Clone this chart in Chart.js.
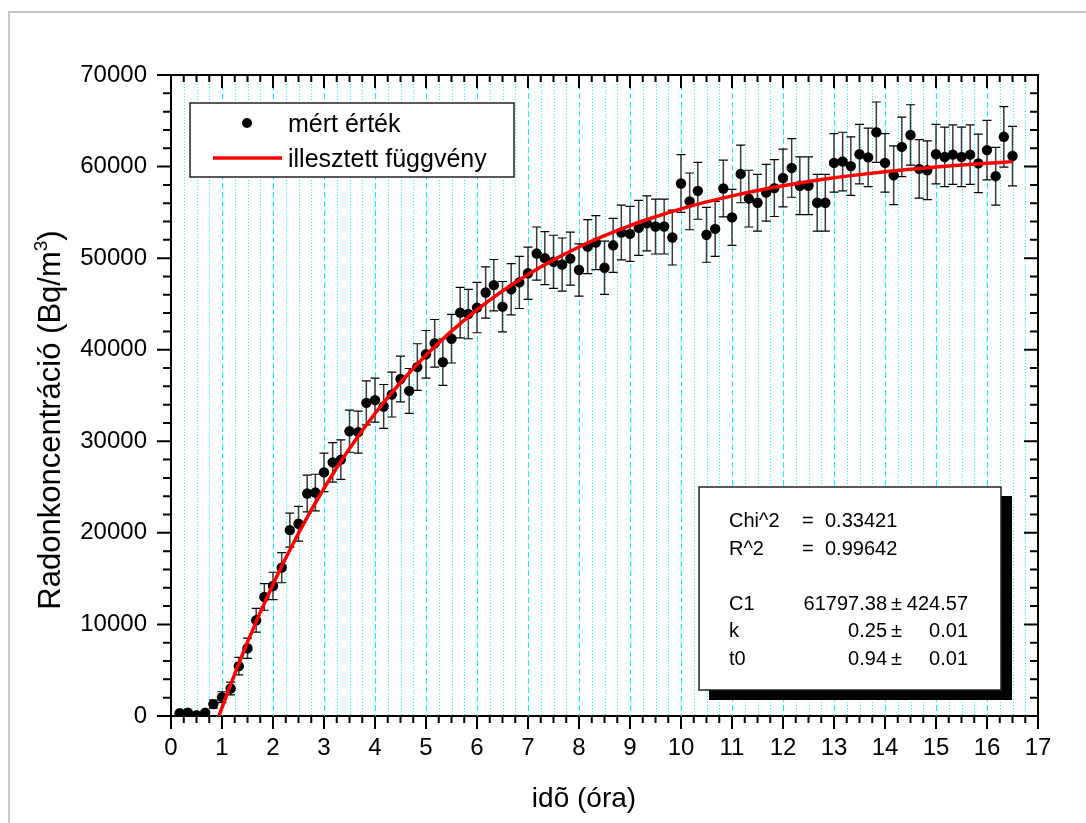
<!DOCTYPE html>
<html>
<head>
<meta charset="utf-8">
<title>Radonkoncentráció</title>
<script src="https://cdn.jsdelivr.net/npm/chart.js@4.4.1/dist/chart.umd.min.js"></script>
<style>
  html, body { margin: 0; padding: 0; background: #fff; }
  #wrap { width: 1086px; height: 823px; }
</style>
</head>
<body>
<div id="wrap"><canvas id="radonChart" width="1086" height="823"></canvas></div>
<script>
// measured points (hours, Bq/m3) and their error bars
const times = [
    0.17, 0.33, 0.5, 0.67, 0.83, 1, 1.17, 1.33, 1.5, 1.67,
    1.83, 2, 2.17, 2.33, 2.5, 2.67, 2.83, 3, 3.17, 3.33,
    3.5, 3.67, 3.83, 4, 4.17, 4.33, 4.5, 4.67, 4.83, 5,
    5.17, 5.33, 5.5, 5.67, 5.83, 6, 6.17, 6.33, 6.5, 6.67,
    6.83, 7, 7.17, 7.33, 7.5, 7.67, 7.83, 8, 8.17, 8.33,
    8.5, 8.67, 8.83, 9, 9.17, 9.33, 9.5, 9.67, 9.83, 10,
    10.17, 10.33, 10.5, 10.67, 10.83, 11, 11.17, 11.33, 11.5, 11.67,
    11.83, 12, 12.17, 12.33, 12.5, 12.67, 12.83, 13, 13.17, 13.33,
    13.5, 13.67, 13.83, 14, 14.17, 14.33, 14.5, 14.67, 14.83, 15,
    15.17, 15.33, 15.5, 15.67, 15.83, 16, 16.17, 16.33, 16.5
];
const measured = [
    300, 350, 100, 350, 1300, 2050, 3000, 5450, 7400, 10450,
    13000, 14200, 16200, 20300, 21000, 24300, 24400, 26600, 27700, 28000,
    31100, 31000, 34200, 34500, 33800, 35100, 36800, 35500, 38100, 39500,
    40700, 38650, 41200, 44050, 43900, 44600, 46250, 47050, 44700, 46600,
    47350, 48350, 50500, 50000, 49600, 49300, 49950, 48700, 51250, 51700,
    48950, 51400, 52800, 52650, 53300, 53800, 53450, 53450, 52250, 58150,
    56200, 57350, 52550, 53200, 57600, 54450, 59200, 56500, 56050, 57150,
    57650, 58750, 59850, 57900, 57900, 56050, 56050, 60400, 60550, 60050,
    61350, 61000, 63750, 60400, 59050, 62150, 63450, 59750, 59600, 61350,
    61050, 61300, 61050, 61300, 60350, 61800, 58950, 63250, 61150
];
const errors = [
    150, 150, 100, 150, 450, 600, 700, 950, 1100, 1300,
    1450, 1500, 1650, 1850, 1900, 2000, 2000, 2100, 2150, 2150,
    2300, 2300, 2400, 2400, 2400, 2450, 2500, 2450, 2550, 2600,
    2600, 2550, 2650, 2750, 2700, 2750, 2800, 2800, 2750, 2800,
    2850, 2850, 2900, 2900, 2900, 2900, 2900, 2850, 2950, 2950,
    2900, 2950, 3000, 3000, 3000, 3000, 3000, 3000, 3000, 3150,
    3100, 3100, 3000, 3000, 3100, 3050, 3150, 3100, 3100, 3100,
    3100, 3150, 3200, 3150, 3150, 3100, 3100, 3200, 3200, 3200,
    3250, 3200, 3300, 3200, 3200, 3250, 3300, 3200, 3200, 3250,
    3250, 3250, 3250, 3250, 3200, 3250, 3150, 3300, 3250
];

// fitted curve
const fitTimes = [
    0.94, 1, 1.5, 2, 2.5, 3, 3.5, 4, 4.5, 5, 5.5, 6, 6.5, 7, 7.5, 8, 8.5,
    9, 9.5, 10, 10.5, 11, 11.5, 12, 12.5, 13, 13.5, 14, 14.5, 15, 15.5, 16, 16.5
];
const fitValues = [
    0, 920, 8070, 14390, 19960, 24870, 29210, 33040, 36420, 39400, 42030, 44360, 46410, 48210, 49810, 51220, 52460,
    53560, 54520, 55380, 56140, 56800, 57390, 57900, 58360, 58770, 59120, 59440, 59710, 59960, 60180, 60370, 60540
];

const xTickLabels = ['0', '1', '2', '3', '4', '5', '6', '7', '8', '9', '10', '11', '12', '13', '14', '15', '16', '17'];
const yTickLabels = ['0', '10000', '20000', '30000', '40000', '50000', '60000', '70000'];
const legendLabels = ['mért érték', 'illesztett függvény'];

const statsLabels = ['Chi^2', 'R^2', 'C1', 'k', 't0'];
const statsValues = ['0.33421', '0.99642', '61797.38', '0.25', '0.94'];
const statsErrors = [null, null, '424.57', '0.01', '0.01'];

const FONT = '"Liberation Sans", Arial, sans-serif';

const decorPlugin = {
    id: 'decor',
    beforeDraw(chart) {
        const ctx = chart.ctx;
        ctx.save();
        ctx.fillStyle = '#fff';
        ctx.fillRect(0, 0, chart.width, chart.height);
        // light grey page frame (only top and left are in view)
        ctx.strokeStyle = '#c8c8c8';
        ctx.lineWidth = 2;
        ctx.strokeRect(9, 12, chart.width + 20, chart.height + 20);
        ctx.restore();
    },
    beforeDatasetsDraw(chart) {
        const ctx = chart.ctx;
        const area = chart.chartArea;
        const xs = chart.scales.x, ys = chart.scales.y;
        ctx.save();

        // vertical cyan grid: dashed on whole hours, dotted on quarters
        xs.ticks.forEach(t => {
            if (t.value <= xs.min || t.value >= xs.max) return;
            const px = Math.round(xs.getPixelForValue(t.value)) + 0.5;
            ctx.beginPath();
            ctx.strokeStyle = '#00ffff';
            ctx.lineWidth = 1;
            ctx.setLineDash(Number.isInteger(t.value) ? [6, 3] : [1, 2]);
            ctx.moveTo(px, area.top);
            ctx.lineTo(px, area.bottom);
            ctx.stroke();
        });
        ctx.setLineDash([]);

        // error bars
        times.forEach((t, i) => {
            const px = xs.getPixelForValue(t);
            const top = ys.getPixelForValue(measured[i] + errors[i]);
            const bot = ys.getPixelForValue(measured[i] - errors[i]);
            ctx.strokeStyle = '#3a3a3a';
            ctx.lineWidth = 1.5;
            ctx.beginPath();
            ctx.moveTo(px, top);
            ctx.lineTo(px, bot);
            ctx.stroke();
            ctx.strokeStyle = '#000';
            ctx.lineWidth = 1.2;
            ctx.beginPath();
            ctx.moveTo(px - 4.5, top);
            ctx.lineTo(px + 4.5, top);
            ctx.moveTo(px - 4.5, bot);
            ctx.lineTo(px + 4.5, bot);
            ctx.stroke();
        });
        ctx.restore();
    },
    afterDatasetsDraw(chart) {
        const ctx = chart.ctx;
        const area = chart.chartArea;
        const xs = chart.scales.x, ys = chart.scales.y;
        ctx.save();

        // frame + tick marks (outward on bottom/left, inward on top/right)
        ctx.strokeStyle = '#000';
        ctx.lineWidth = 2;
        ctx.beginPath();
        ctx.moveTo(area.left, area.top);
        ctx.lineTo(area.right, area.top);
        ctx.lineTo(area.right, area.bottom);
        ctx.stroke();

        ctx.beginPath();
        xs.ticks.forEach(t => {
            const px = xs.getPixelForValue(t.value);
            const len = Number.isInteger(t.value) ? 13 : 7;
            ctx.moveTo(px, area.bottom);
            ctx.lineTo(px, area.bottom + len);
            ctx.moveTo(px, area.top);
            ctx.lineTo(px, area.top + len);
        });
        ys.ticks.forEach(t => {
            const py = ys.getPixelForValue(t.value);
            const len = t.value % 10000 === 0 ? 14 : 8;
            ctx.moveTo(area.left, py);
            ctx.lineTo(area.left - len, py);
            ctx.moveTo(area.right, py);
            ctx.lineTo(area.right - len, py);
        });
        ctx.stroke();

        // legend box
        const pts = chart.data.datasets[0], fit = chart.data.datasets[1];
        ctx.fillStyle = '#fff';
        ctx.fillRect(190, 103, 324, 74);
        ctx.lineWidth = 1.5;
        ctx.strokeStyle = '#222';
        ctx.strokeRect(190, 103, 324, 74);
        ctx.fillStyle = pts.backgroundColor;
        ctx.beginPath();
        ctx.arc(247, 123, 5, 0, Math.PI * 2);
        ctx.fill();
        ctx.strokeStyle = fit.borderColor;
        ctx.lineWidth = 3.5;
        ctx.beginPath();
        ctx.moveTo(213, 158);
        ctx.lineTo(282, 158);
        ctx.stroke();
        ctx.fillStyle = '#000';
        ctx.font = '25px ' + FONT;
        ctx.textAlign = 'left';
        ctx.textBaseline = 'alphabetic';
        ctx.fillText(legendLabels[0], 288, 132);
        ctx.fillText(legendLabels[1], 288, 167);

        // fit results box with drop shadow
        ctx.fillStyle = '#000';
        ctx.fillRect(709, 496, 303, 204);
        ctx.fillStyle = '#fff';
        ctx.fillRect(699, 487, 302, 203);
        ctx.lineWidth = 1.5;
        ctx.strokeStyle = '#222';
        ctx.strokeRect(699, 487, 302, 203);
        ctx.fillStyle = '#000';
        ctx.font = '20px ' + FONT;
        const rowY = [527, 555, 610, 637, 665];
        statsLabels.forEach((lab, i) => {
            ctx.textAlign = 'left';
            ctx.fillText(lab, 729, rowY[i]);
            if (statsErrors[i] === null) {
                ctx.fillText('=', 802, rowY[i]);
                ctx.fillText(statsValues[i], 825, rowY[i]);
            } else {
                ctx.textAlign = 'right';
                ctx.fillText(statsValues[i], 887, rowY[i]);
                ctx.textAlign = 'left';
                ctx.fillText('±', 891, rowY[i]);
                ctx.textAlign = 'right';
                ctx.fillText(statsErrors[i], 968, rowY[i]);
            }
        });

        // axis titles
        ctx.textAlign = 'center';
        ctx.font = '28px ' + FONT;
        ctx.fillText('idõ (óra)', 584, 807);

        ctx.translate(60, 420);
        ctx.rotate(-Math.PI / 2);
        ctx.textAlign = 'left';
        const mainTxt = 'Radonkoncentráció (Bq/m';
        ctx.font = '31px ' + FONT;
        const w1 = ctx.measureText(mainTxt).width;
        const w3 = ctx.measureText(')').width;
        ctx.font = '19px ' + FONT;
        const w2 = ctx.measureText('3').width;
        let x0 = -(w1 + w2 + w3) / 2;
        ctx.font = '31px ' + FONT;
        ctx.fillText(mainTxt, x0, 0);
        ctx.font = '19px ' + FONT;
        ctx.fillText('3', x0 + w1, -13);
        ctx.font = '31px ' + FONT;
        ctx.fillText(')', x0 + w1 + w2, 0);

        ctx.restore();
    }
};

new Chart(document.getElementById('radonChart').getContext('2d'), {
    type: 'scatter',
    data: {
        datasets: [{
            label: legendLabels[0],
            data: times.map((t, i) => ({ x: t, y: measured[i] })),
            backgroundColor: '#000',
            borderColor: '#000',
            pointRadius: 5.2,
            pointBorderWidth: 0,
            order: 1
        }, {
            label: legendLabels[1],
            type: 'line',
            data: fitTimes.map((t, i) => ({ x: t, y: fitValues[i] })),
            borderColor: '#ff0000',
            borderWidth: 3.5,
            pointRadius: 0,
            fill: false,
            cubicInterpolationMode: 'monotone',
            order: 0
        }]
    },
    options: {
        responsive: false,
        animation: false,
        devicePixelRatio: 1,
        layout: { padding: { left: 0, right: 48, top: 75, bottom: 47 } },
        plugins: {
            legend: { display: false },
            tooltip: { enabled: false }
        },
        scales: {
            x: {
                type: 'linear',
                min: 0,
                max: 17,
                grid: { display: false, drawTicks: false },
                border: { display: true, color: '#000', width: 2 },
                ticks: {
                    stepSize: 0.25,
                    autoSkip: false,
                    maxRotation: 0,
                    padding: 18,
                    color: '#000',
                    font: { family: FONT, size: 24 },
                    callback: v => Number.isInteger(v) ? xTickLabels[v] : ''
                },
                afterFit: s => { s.height = 60; }
            },
            y: {
                type: 'linear',
                min: 0,
                max: 70000,
                grid: { display: false, drawTicks: false },
                border: { display: true, color: '#000', width: 2 },
                ticks: {
                    stepSize: 2000,
                    autoSkip: false,
                    padding: 24,
                    color: '#000',
                    font: { family: FONT, size: 24 },
                    callback: v => v % 10000 === 0 ? yTickLabels[v / 10000] : ''
                },
                afterFit: s => { s.width = 171; }
            }
        }
    },
    plugins: [decorPlugin]
});
</script>
</body>
</html>
